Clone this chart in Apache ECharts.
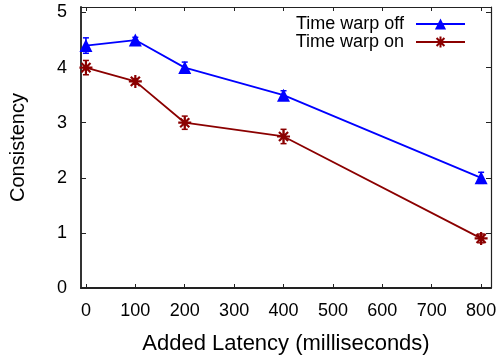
<!DOCTYPE html>
<html><head><meta charset="utf-8">
<script src="https://cdn.jsdelivr.net/npm/echarts@6/dist/echarts.min.js"></script>
<style>html,body{margin:0;padding:0;background:#fff}#c{width:501px;height:360px}</style>
</head><body><div id="c"></div>
<script>
const latency = [0, 100, 200, 400, 800];
const offValues = [4.4, 4.5, 4.0, 3.5, 2.0];
const offErrors = [0.14, 0.05, 0.1, 0.08, 0.1];
const onValues = [4.0, 3.75, 3.0, 2.75, 0.9];
const onErrors = [0.13, 0.05, 0.12, 0.13, 0.08];
const xTicks = [0, 100, 200, 300, 400, 500, 600, 700, 800];
const yTicks = [0, 1, 2, 3, 4, 5];
const seriesNames = ['Time warp off', 'Time warp on'];

const BLUE = '#0000ff', RED = '#8b0000';
const FONT = 'Liberation Sans, Arial, Helvetica, sans-serif';
const STAR = 'path://M0,10L20,10M10,0L10,20M3,3L17,17M17,3L3,17';

function errData(vals, errs) {
  return latency.map((x, i) => [x, vals[i] - errs[i], vals[i] + errs[i]]);
}
function errRender(color) {
  return function (params, api) {
    const x = api.value(0);
    const lo = api.coord([x, api.value(1)]);
    const hi = api.coord([x, api.value(2)]);
    const w = 3;
    const st = { stroke: color, lineWidth: 1.5 };
    return {
      type: 'group',
      children: [
        { type: 'line', shape: { x1: lo[0], y1: lo[1], x2: hi[0], y2: hi[1] }, style: st },
        { type: 'line', shape: { x1: lo[0] - w, y1: lo[1], x2: lo[0] + w, y2: lo[1] }, style: st },
        { type: 'line', shape: { x1: hi[0] - w, y1: hi[1], x2: hi[0] + w, y2: hi[1] }, style: st }
      ]
    };
  };
}

const chart = echarts.init(document.getElementById('c'), null, { renderer: 'canvas' });
const axisCommonX = {
  type: 'value', min: -10, max: 820,
  splitLine: { show: false },
  axisTick: { inside: true, length: 4, customValues: xTicks, lineStyle: { color: '#222', width: 1 } }
};
const axisCommonY = {
  type: 'value', min: 0, max: 5.1,
  splitLine: { show: false },
  axisTick: { inside: true, length: 5, customValues: yTicks, lineStyle: { color: '#222', width: 1 } }
};
chart.setOption({
  animation: false,
  backgroundColor: '#fff',
  textStyle: { fontFamily: FONT },
  grid: { left: 79, right: 10, top: 7, bottom: 72 },
  legend: {
    orient: 'vertical', align: 'right', right: 30, top: 10,
    itemWidth: 49, itemHeight: 14, itemGap: 0,
    textStyle: { fontSize: 18, lineHeight: 17, color: '#000', fontFamily: FONT, padding: [0, 7, 0, 0] },
    data: seriesNames
  },
  xAxis: [
    Object.assign({}, axisCommonX, {
      position: 'bottom',
      name: 'Added Latency (milliseconds)', nameLocation: 'middle', nameGap: 45,
      nameTextStyle: { fontSize: 22, color: '#000', fontFamily: FONT },
      axisLine: { onZero: false, lineStyle: { color: '#222', width: 2 } },
      axisLabel: { customValues: xTicks, fontSize: 18, color: '#000', margin: 14, fontFamily: FONT }
    }),
    Object.assign({}, axisCommonX, {
      position: 'top',
      axisLine: { onZero: false, lineStyle: { color: '#222', width: 1.2 } },
      axisLabel: { show: false }
    })
  ],
  yAxis: [
    Object.assign({}, axisCommonY, {
      position: 'left',
      name: 'Consistency', nameLocation: 'middle', nameGap: 53,
      nameTextStyle: { fontSize: 20, color: '#000', fontFamily: FONT },
      axisLine: { show: true, onZero: false, lineStyle: { color: '#333', width: 2 } },
      axisLabel: { customValues: yTicks, fontSize: 18, color: '#000', margin: 14, fontFamily: FONT }
    }),
    Object.assign({}, axisCommonY, {
      position: 'right',
      axisLine: { show: true, onZero: false, lineStyle: { color: '#222', width: 1.2 } },
      axisLabel: { show: false }
    })
  ],
  series: [
    {
      name: seriesNames[0], type: 'line',
      data: latency.map((x, i) => [x, offValues[i]]),
      symbol: 'triangle', symbolSize: 13,
      lineStyle: { color: BLUE, width: 1.8 },
      itemStyle: { color: BLUE },
      z: 3
    },
    {
      name: seriesNames[1], type: 'line',
      data: latency.map((x, i) => [x, onValues[i]]),
      symbol: STAR, symbolSize: 13,
      lineStyle: { color: RED, width: 1.8 },
      itemStyle: { color: RED, borderColor: RED, borderWidth: 2.2 },
      z: 3
    },
    {
      type: 'custom', name: 'offErr', renderItem: errRender(BLUE),
      data: errData(offValues, offErrors), z: 4, silent: true
    },
    {
      type: 'custom', name: 'onErr', renderItem: errRender(RED),
      data: errData(onValues, onErrors), z: 4, silent: true
    }
  ]
});
</script></body></html>
